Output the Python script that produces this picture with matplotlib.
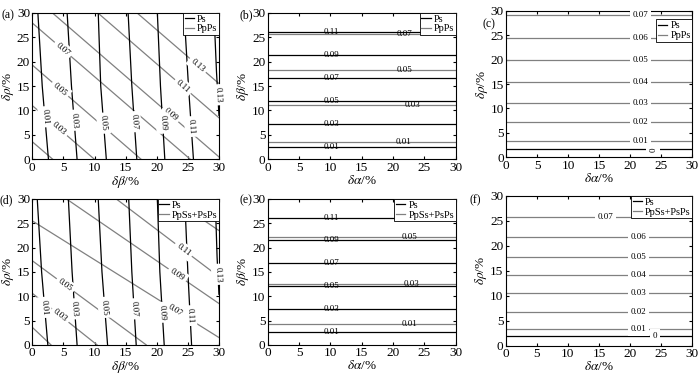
import numpy as np
import matplotlib.pyplot as plt

plt.rcParams["font.family"] = ["Liberation Serif", "DejaVu Serif"]
plt.rcParams["mathtext.fontset"] = "stix"
plt.rcParams["font.size"] = 9.5
plt.rcParams["xtick.direction"] = "in"
plt.rcParams["ytick.direction"] = "in"
plt.rcParams["xtick.top"] = True
plt.rcParams["ytick.right"] = True
plt.rcParams["xtick.major.size"] = 2.5
plt.rcParams["ytick.major.size"] = 2.5
plt.rcParams["xtick.major.pad"] = 1.6
plt.rcParams["ytick.major.pad"] = 1.6
plt.rcParams["axes.linewidth"] = 0.8

GRAY = "#808080"
LW = 0.9
TICKS = [0, 5, 10, 15, 20, 25, 30]

# ---- (a) Ps / PpPs, x = dbeta, y = drho -------------------------------
a_ps_levels = [0.01, 0.03, 0.05, 0.07, 0.09, 0.11, 0.13]
a_ps_x = [[2.6, 1.6, 0.9], [7.2, 6.3, 5.6], [11.9, 11.0, 10.6],
          [16.8, 16.0, 15.4], [21.3, 20.6, 20.1], [25.9, 25.1, 24.4],
          [30.0, 29.6, 29.2]]
a_ps_y = [[0, 15, 30]] * 6 + [[9, 18, 30]]
a_ps_lab = [8.7, 8.0, 7.4, 7.7, 7.4, 6.7, 13.2]          # y of label

a_pp_levels = [0.01, 0.03, 0.05, 0.07, 0.09, 0.11, 0.13]
a_pp_x = [[0, 3.3], [0, 10.0], [0, 17.5], [0, 25.4],
          [3.2, 30], [10.5, 30], [16.8, 30]]
a_pp_y = [[3.6, 0], [11.0, 0], [19.3, 0], [27.9, 0],
          [30, 0.5], [30, 8.5], [30, 15.5]]
a_pp_lab = [None, 4.3, 4.5, 4.9, 22.2, 24.2, 26.6]      # x of label

# ---- (d) Ps / PpSs+PsPs, x = dbeta, y = drho --------------------------
d_ps_levels = [0.01, 0.03, 0.05, 0.07, 0.09, 0.11, 0.13]
d_ps_x = [[2.5, 1.5, 0.8], [7.2, 6.4, 5.8], [12.1, 11.2, 10.6],
          [16.7, 16.0, 15.5], [21.2, 20.5, 20.1], [25.6, 25.0, 24.5],
          [30.0, 29.7, 29.4]]
d_ps_y = [[0, 15, 30]] * 6 + [[10.4, 18, 30]]
d_ps_lab = [7.7, 7.4, 7.7, 7.4, 6.7, 6.0, 14.5]

d_pp_levels = [0.01, 0.03, 0.05, 0.07, 0.09, 0.11, 0.13]
d_pp_x = [[0, 3.0], [0, 10.4], [0, 18.3], [0, 30],
          [5.5, 30], [13.5, 30], [22.5, 30]]
d_pp_y = [[3.6, 0], [10.6, 0], [17.3, 0], [25.5, 1.5],
          [30, 8.5], [30, 14.0], [30, 23.5]]
d_pp_lab = [None, 4.5, 5.3, 23.0, 23.3, 24.3, None]

# ---- (b) x = dalpha, y = dbeta ----------------------------------------
b_ps_levels = [0.01, 0.03, 0.05, 0.07, 0.09, 0.11]
b_ps_y = [2.5, 7.2, 11.9, 16.6, 21.3, 26.0]
b_ps_lab = [10.2] * 6
b_pp_levels = [0.01, 0.03, 0.05, 0.07]
b_pp_y = [3.6, 11.1, 18.3, 25.7]
b_pp_lab = [21.6, 23.1, 21.8, 21.9]

# ---- (e) x = dalpha, y = dbeta ----------------------------------------
e_ps_levels = [0.01, 0.03, 0.05, 0.07, 0.09, 0.11]
e_ps_y = [2.6, 7.3, 12.1, 16.8, 21.5, 26.0]
e_ps_lab = [10.2] * 6
e_pp_levels = [0.01, 0.03, 0.05]
e_pp_y = [4.2, 12.6, 22.1]
e_pp_lab = [22.7, 22.9, 22.7]

# ---- (c) x = dalpha, y = drho -----------------------------------------
c_ps_levels = [0]
c_ps_y = [1.6]
c_ps_lab = [23.7]
c_pp_levels = [0.01, 0.02, 0.03, 0.04, 0.05, 0.06, 0.07]
c_pp_y = [3.4, 7.3, 11.2, 15.5, 19.9, 24.5, 29.1]
c_pp_lab = [21.6] * 7

# ---- (f) x = dalpha, y = drho -----------------------------------------
f_ps_levels = [0]
f_ps_y = [1.9]
f_ps_lab = [24.0]
f_pp_levels = [0.01, 0.02, 0.03, 0.04, 0.05, 0.06, 0.07]
f_pp_y = [3.3, 6.7, 10.5, 14.2, 17.8, 21.8, 25.7]
f_pp_lab = [21.3, 21.3, 21.3, 21.3, 21.3, 21.3, 16.0]


def on_line(xs, ys, at, along):
    xs = np.asarray(xs, float)
    ys = np.asarray(ys, float)
    if along == "x":
        o = np.argsort(xs)
        return at, np.interp(at, xs[o], ys[o])
    o = np.argsort(ys)
    return np.interp(at, ys[o], xs[o]), at


def fmt(v):
    return "0" if v == 0 else f"{v:.2f}"


def label_line(ax, xs, ys, at, along, text, gap=True, rot=None):
    x0, y0 = on_line(xs, ys, at, along)
    if rot is None:
        xa, ya = on_line(xs, ys, at - 0.5, along)
        xb, yb = on_line(xs, ys, at + 0.5, along)
        pa, pb = ax.transData.transform([(xa, ya), (xb, yb)])
        rot = np.degrees(np.arctan2(pb[1] - pa[1], pb[0] - pa[0]))
        if rot > 90:
            rot -= 180
        if rot <= -90:
            rot += 180
    bbox = dict(boxstyle="square,pad=0.3", fc="white", ec="none") if gap else None
    ax.text(x0, y0, text, rotation=rot, rotation_mode="anchor",
            ha="center", va="center", fontsize=6.5, color="black",
            bbox=bbox, zorder=5)


def setup(ax, xlabel, ylabel):
    ax.set_xlim(0, 30)
    ax.set_ylim(0, 30)
    ax.set_xticks(TICKS)
    ax.set_yticks(TICKS)
    ax.set_xlabel(xlabel, labelpad=0)
    ax.set_ylabel(ylabel, labelpad=0.5)


def add_legend(ax, second, anchor=(1.0, 1.0)):
    h1, = ax.plot([], [], color="black", lw=LW, label="Ps")
    h2, = ax.plot([], [], color=GRAY, lw=LW, label=second)
    leg = ax.legend(handles=[h1, h2], loc="upper right", bbox_to_anchor=anchor,
                    fontsize=7.5, frameon=True, fancybox=False, framealpha=1,
                    edgecolor="black", borderpad=0.15, labelspacing=0.05,
                    handlelength=0.9, handletextpad=0.3, borderaxespad=0.0)
    leg.get_frame().set_linewidth(0.6)
    leg.set_zorder(10)


def draw_map(ax, ps_lv, ps_x, ps_y, ps_lab, pp_lv, pp_x, pp_y, pp_lab):
    for lv, xs, ys, at in zip(pp_lv, pp_x, pp_y, pp_lab):
        ax.plot(xs, ys, color=GRAY, lw=LW, zorder=2)
        if at is not None:
            label_line(ax, xs, ys, at, "x", fmt(lv))
    for lv, xs, ys, at in zip(ps_lv, ps_x, ps_y, ps_lab):
        ax.plot(xs, ys, color="black", lw=LW, zorder=3)
        if at is not None:
            label_line(ax, xs, ys, at, "y", fmt(lv))


def draw_flat(ax, ps_lv, ps_y, ps_lab, pp_lv, pp_y, pp_lab, gap, zero_rot=0):
    for lv, y, at in zip(pp_lv, pp_y, pp_lab):
        ax.axhline(y, color=GRAY, lw=LW, zorder=2)
        label_line(ax, [0, 30], [y, y], at, "x", fmt(lv), gap=gap, rot=0)
    for lv, y, at in zip(ps_lv, ps_y, ps_lab):
        ax.axhline(y, color="black", lw=LW, zorder=3)
        rot = zero_rot if lv == 0 else 0
        label_line(ax, [0, 30], [y, y], at, "x", fmt(lv), gap=gap, rot=rot)


fig = plt.figure(figsize=(7.0, 3.74), dpi=100)

xb = r"$\delta\beta$/%"
xa = r"$\delta\alpha$/%"
yr = r"$\delta\rho$/%"

ax_a = fig.add_axes([0.0461, 0.574, 0.2667, 0.392])
ax_b = fig.add_axes([0.3824, 0.574, 0.2686, 0.392])
ax_c = fig.add_axes([0.7229, 0.5794, 0.2661, 0.392])
ax_d = fig.add_axes([0.0461, 0.0780, 0.2667, 0.390])
ax_e = fig.add_axes([0.3824, 0.0780, 0.2686, 0.390])
ax_f = fig.add_axes([0.7224, 0.0760, 0.2666, 0.400])

setup(ax_a, xb, yr)
setup(ax_b, xa, xb)
setup(ax_c, xa, yr)
setup(ax_d, xb, yr)
setup(ax_e, xa, xb)
setup(ax_f, xa, yr)

draw_map(ax_a, a_ps_levels, a_ps_x, a_ps_y, a_ps_lab,
         a_pp_levels, a_pp_x, a_pp_y, a_pp_lab)
draw_map(ax_d, d_ps_levels, d_ps_x, d_ps_y, d_ps_lab,
         d_pp_levels, d_pp_x, d_pp_y, d_pp_lab)
draw_flat(ax_b, b_ps_levels, b_ps_y, b_ps_lab, b_pp_levels, b_pp_y, b_pp_lab, gap=False)
draw_flat(ax_e, e_ps_levels, e_ps_y, e_ps_lab, e_pp_levels, e_pp_y, e_pp_lab, gap=False)
draw_flat(ax_c, c_ps_levels, c_ps_y, c_ps_lab, c_pp_levels, c_pp_y, c_pp_lab, gap=True, zero_rot=90)
draw_flat(ax_f, f_ps_levels, f_ps_y, f_ps_lab, f_pp_levels, f_pp_y, f_pp_lab, gap=True)

add_legend(ax_a, "PpPs")
add_legend(ax_b, "PpPs")
add_legend(ax_c, "PpPs", anchor=(1.0, 0.94))
add_legend(ax_d, "PpSs+PsPs")
add_legend(ax_e, "PpSs+PsPs")
add_legend(ax_f, "PpSs+PsPs")

for lab, x, y in [("(a)", 1, 15), ("(b)", 240, 15), ("(c)", 483, 24),
                  ("(d)", 0, 200), ("(e)", 239, 200), ("(f)", 469, 200)]:
    fig.text(x / 700, 1 - y / 374, lab, ha="left", va="center", fontsize=8.5)

fig.savefig("out.png", dpi=100)
